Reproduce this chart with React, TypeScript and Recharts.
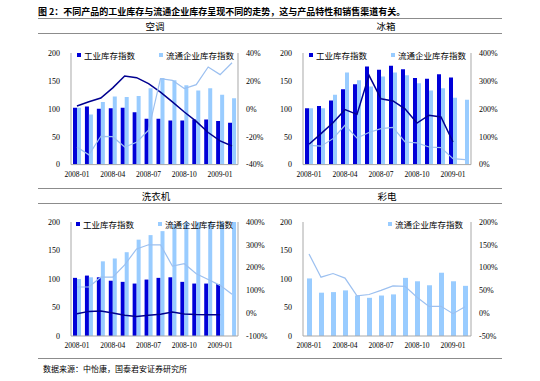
import { ComposedChart, Bar, Line, XAxis, YAxis } from 'recharts';

const months = [
  "2008-01", "2008-02", "2008-03", "2008-04", "2008-05", "2008-06", "2008-07",
  "2008-08", "2008-09", "2008-10", "2008-11", "2008-12", "2009-01", "2009-02",
];

const industryName = "工业库存指数";
const circulationName = "流通企业库存指数";

// 空调
const acIndustry = [102, 104, 100, 101, 102, 94, 82, 82, 79, 79, 81, 81, 78, 75];
const acCirculation = [102, 90, 112, 122, 121, 123, 137, 155, 151, 142, 133, 137, 125, 119];
const acIndustryYoY = [2, 5, 7.7, 15, 23.5, 22.3, 18, 12, 5, -2.3, -9, -17, -23, -26.7];
const acCirculationYoY = [-27.4, -33, -19.7, -20, -27.4, -24, -15.4, 21.6, 20.4, 14.5, 17.3, 30, 24.5, 33];

// 冰箱
const fridgeIndustry = [101, 105, 115, 135, 144, 176, 170, 177, 171, 155, 154, 162, 156, null];
const fridgeCirculation = [101, 101, 125, 165, 151, 140, 158, 165, 160, 146, 133, 137, 120, 116];
const fridgeIndustryYoY = [73, 111, 150, 197, 180, 320, 236, 228, 200, 149, 177, 171, 81, null];
const fridgeCirculationYoY = [69, 66, 93, 141, 95, 115, 129, 133, 81, 78, 63, 61, 21.5, 18];

// 洗衣机
const washerIndustry = [102, 106, 103, 97, 95, 92, 99, 102, 103, 95, 92, 92, 91, null];
const washerCirculation = [100, 103, 131, 136, 147, 169, 177, 184, 196, 210, 215, 212, 218, 214];
const washerIndustryYoY = [-2, 8, 9.6, 1, -9, -14, -9, -5, 5, -3.5, -6, -6.5, -6.5, null];
const washerCirculationYoY = [115, 115, 158, 158, 212, 282, 300, 300, 207, 217, 173, 148, 122, 83];

// 彩电
const tvCirculation = [101, 76, 77, 80, 71, 67, 71, 73, 102, 96, 89, 111, 96, 88];
const tvCirculationYoY = [130, 79, 87, 77, 38, 41, 50, 60, 59, 35, 15, 15, -1, 14];

const leftTicks = [0, 50, 100, 150, 200];

const DARK = "#0000D8";
const LIGHT = "#99CCFF";
const DARK_LINE = "#000090";
const LIGHT_LINE = "#9CC0F0";
const AXIS = "#A8A8A8";
const CJK = '"Noto Sans CJK SC", sans-serif';
const SERIF = '"Liberation Serif", serif';

function build(ind, circ, indYoY, circYoY) {
  return months.map((m, i) => ({
    month: m,
    ind: ind ? ind[i] : null,
    circ: circ[i],
    indYoY: indYoY ? indYoY[i] : null,
    circYoY: circYoY[i],
  }));
}

function Panel({ x, y, w, h, data, rightDomain, rightTicks, hasIndustry, barSize }) {
  const tick = { fontSize: 8, fill: "#000", fontFamily: SERIF };
  return (
    <div style={{ position: "absolute", left: x - 45, top: y - 8 }}>
      <ComposedChart
        width={w + 90}
        height={h + 30}
        data={data}
        margin={{ top: 8, right: 0, bottom: 0, left: 0 }}
        barGap={0}
      >
        <XAxis
          dataKey="month"
          interval={2}
          tickLine={false}
          tickSize={0}
          tickMargin={7}
          axisLine={{ stroke: AXIS }}
          height={22}
          tick={{ fontSize: 7.5, fill: "#000", fontFamily: SERIF }}
        />
        <YAxis
          yAxisId="left"
          width={45}
          domain={[0, 200]}
          ticks={leftTicks}
          allowDataOverflow
          tickLine={false}
          tickSize={0}
          tickMargin={11}
          axisLine={{ stroke: AXIS }}
          tick={tick}
        />
        <YAxis
          yAxisId="right"
          orientation="right"
          width={45}
          domain={rightDomain}
          ticks={rightTicks}
          allowDataOverflow
          tickLine={false}
          tickSize={0}
          tickMargin={8}
          axisLine={{ stroke: AXIS }}
          tick={tick}
          tickFormatter={(v) => `${v}%`}
        />
        {hasIndustry && (
          <Bar yAxisId="left" dataKey="ind" fill={DARK} barSize={barSize} isAnimationActive={false} />
        )}
        <Bar yAxisId="left" dataKey="circ" fill={LIGHT} barSize={barSize} isAnimationActive={false} />
        {hasIndustry && (
          <Line
            yAxisId="right"
            dataKey="indYoY"
            stroke={DARK_LINE}
            strokeWidth={1.5}
            dot={false}
            type="linear"
            isAnimationActive={false}
          />
        )}
        <Line
          yAxisId="right"
          dataKey="circYoY"
          stroke={LIGHT_LINE}
          strokeWidth={1.2}
          dot={false}
          type="linear"
          isAnimationActive={false}
        />
      </ComposedChart>
    </div>
  );
}

function LegendItem({ x, y, color, label }) {
  return (
    <div
      style={{
        position: "absolute",
        left: x,
        top: y - 6,
        height: 12,
        display: "flex",
        alignItems: "center",
        fontFamily: CJK,
        fontSize: 8.5,
        color: "#000",
        whiteSpace: "nowrap",
      }}
    >
      <span style={{ display: "inline-block", width: 4, height: 4, background: color, marginRight: 3 }} />
      {label}
    </div>
  );
}

function Rule({ y }) {
  return (
    <div style={{ position: "absolute", left: 38, top: y, width: 464, height: 1.5, background: "#8C8C8C" }} />
  );
}

function Header({ x, y, text }) {
  return (
    <div
      style={{
        position: "absolute",
        left: x - 40,
        top: y - 7,
        width: 80,
        textAlign: "center",
        fontFamily: CJK,
        fontSize: 9.5,
        lineHeight: "14px",
        color: "#000",
      }}
    >
      {text}
    </div>
  );
}

export default function App() {
  return (
    <div
      style={{
        position: "absolute",
        left: 0,
        top: 0,
        width: 540,
        height: 381,
        background: "#fff",
        overflow: "hidden",
      }}
    >
      <div
        style={{
          position: "absolute",
          left: 38,
          top: 5,
          fontFamily: CJK,
          fontSize: 9,
          fontWeight: "bold",
          lineHeight: "14px",
          color: "#000",
          whiteSpace: "nowrap",
        }}
      >
        图 2：不同产品的工业库存与流通企业库存呈现不同的走势，这与产品特性和销售渠道有关。
      </div>
      <Rule y={17.5} />
      <Header x={155} y={26} text="空调" />
      <Header x={386} y={26} text="冰箱" />
      <Rule y={32.5} />

      <Panel
        x={71}
        y={52.7}
        w={167}
        h={111.6}
        data={build(acIndustry, acCirculation, acIndustryYoY, acCirculationYoY)}
        rightDomain={[-40, 40]}
        rightTicks={[-40, -20, 0, 20, 40]}
        hasIndustry
        barSize={4}
      />
      <Panel
        x={303}
        y={52.7}
        w={168}
        h={111.6}
        data={build(fridgeIndustry, fridgeCirculation, fridgeIndustryYoY, fridgeCirculationYoY)}
        rightDomain={[0, 400]}
        rightTicks={[0, 100, 200, 300, 400]}
        hasIndustry
        barSize={4}
      />
      <LegendItem x={77} y={55} color={DARK} label={industryName} />
      <LegendItem x={159} y={55} color={LIGHT} label={circulationName} />
      <LegendItem x={309} y={55} color={DARK} label={industryName} />
      <LegendItem x={391} y={55} color={LIGHT} label={circulationName} />

      <Rule y={187.5} />
      <Header x={156} y={196} text="洗衣机" />
      <Header x={387} y={196} text="彩电" />
      <Rule y={202.5} />

      <Panel
        x={71}
        y={221.7}
        w={167}
        h={114}
        data={build(washerIndustry, washerCirculation, washerIndustryYoY, washerCirculationYoY)}
        rightDomain={[-100, 400]}
        rightTicks={[-100, 0, 100, 200, 300, 400]}
        hasIndustry
        barSize={4}
      />
      <Panel
        x={303}
        y={221.7}
        w={168}
        h={114}
        data={build(null, tvCirculation, null, tvCirculationYoY)}
        rightDomain={[-50, 200]}
        rightTicks={[-50, 0, 50, 100, 150, 200]}
        hasIndustry={false}
        barSize={5}
      />
      <LegendItem x={76} y={224} color={DARK} label={industryName} />
      <LegendItem x={158} y={224} color={LIGHT} label={circulationName} />
      <LegendItem x={388} y={224} color={LIGHT} label={circulationName} />

      <Rule y={357.5} />
      <div
        style={{
          position: "absolute",
          left: 43,
          top: 362,
          fontFamily: CJK,
          fontSize: 8,
          lineHeight: "14px",
          color: "#000",
          whiteSpace: "nowrap",
        }}
      >
        数据来源：中怡康，国泰君安证券研究所
      </div>
    </div>
  );
}
